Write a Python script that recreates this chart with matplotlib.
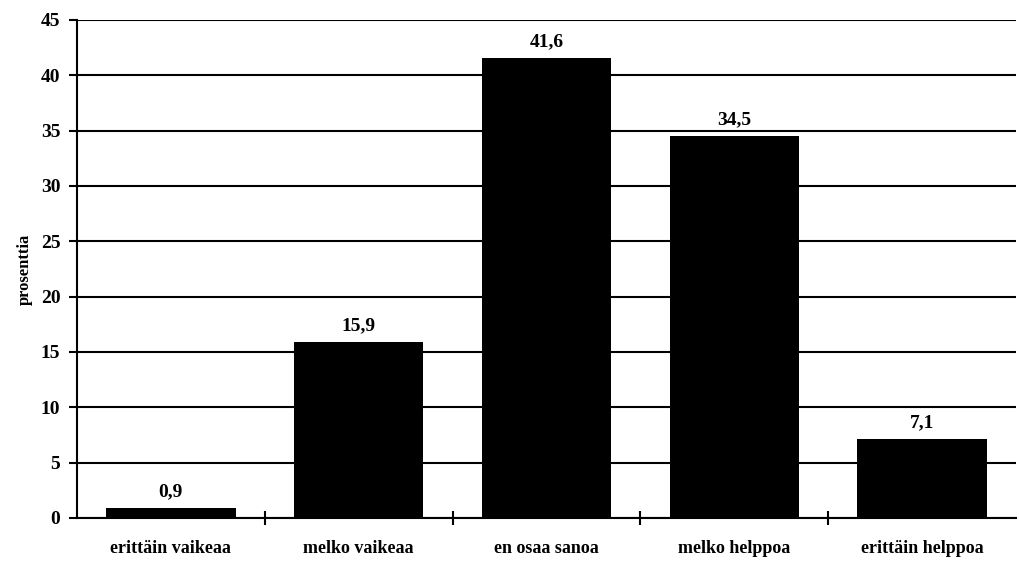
import matplotlib.pyplot as plt
import numpy as np

categories = ['erittäin vaikeaa', 'melko vaikeaa', 'en osaa sanoa', 'melko helppoa', 'erittäin helppoa']
values = [0.9, 15.9, 41.6, 34.5, 7.1]
value_labels = ['0,9', '15,9', '41,6', '34,5', '7,1']

plt.rcParams['font.family'] = ['Liberation Serif', 'DejaVu Serif']
plt.rcParams['font.weight'] = 'bold'

fig = plt.figure(figsize=(10.19, 5.64), dpi=100)
ax = fig.add_axes([77 / 1019, 1 - 518 / 564, (1016 - 77) / 1019, (518 - 20) / 564])

x = np.arange(len(categories))
ax.set_axisbelow(True)
ax.bar(x, values, width=0.69, color='black')

for xi, v, lab in zip(x, values, value_labels):
    ax.text(xi, v + 0.7, lab, ha='center', va='bottom', fontsize=14, fontweight='bold')

ax.set_xlim(-0.5, len(categories) - 0.5)
ax.set_ylim(0, 45)
ax.set_yticks(np.arange(0, 46, 5))
ax.yaxis.grid(True, color='black', linewidth=1.5)

ax.set_xticks(x)
ax.set_xticklabels(categories, fontsize=13, fontweight='bold')
ax.set_xticks(np.arange(0.5, len(categories) - 0.5, 1), minor=True)
ax.tick_params(axis='x', which='major', length=0, pad=16)
ax.tick_params(axis='x', which='minor', length=10, width=1.5, direction='inout')
ax.tick_params(axis='y', length=6, width=1.5, labelsize=14, pad=6)
for lab in ax.get_yticklabels():
    lab.set_fontweight('bold')

for side in ['top', 'right']:
    ax.spines[side].set_visible(False)
ax.spines['left'].set_linewidth(1.5)
ax.spines['bottom'].set_linewidth(1.5)

ax.set_ylabel('prosenttia', fontsize=12, fontweight='bold', labelpad=6)

plt.savefig('out.png', dpi=100)
plt.close()
